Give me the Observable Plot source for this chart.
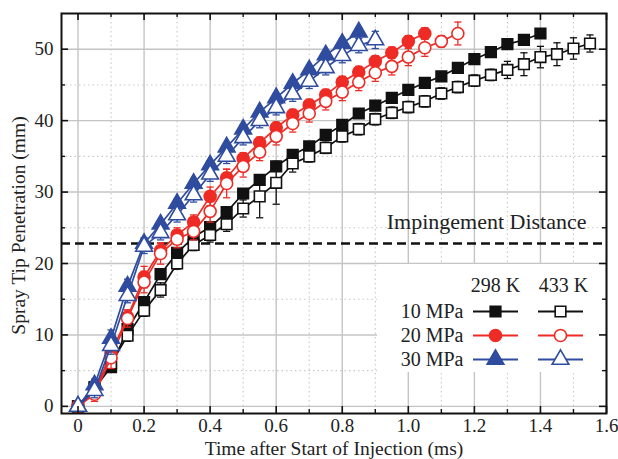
<!DOCTYPE html>
<html><head><meta charset="utf-8">
<script src="https://cdn.jsdelivr.net/npm/d3@7"></script>
<script src="https://cdn.jsdelivr.net/npm/@observablehq/plot@0.6"></script>
<style>html,body{margin:0;padding:0;background:#fff}svg{display:block}</style>
</head><body><div id="chart"></div>
<script>
// ---- data ----
const times = [0,0.05,0.1,0.15,0.2,0.25,0.3,0.35,0.4,0.45,0.5,0.55,0.6,0.65,0.7,0.75,0.8,0.85,0.9,0.95,1.0,1.05,1.1,1.15,1.2,1.25,1.3,1.35,1.4,1.45,1.5,1.55];

const p10_298 = [0,2.5,5.5,10.8,14.6,18.5,21.5,23.7,25.1,27.2,29.8,31.7,33.6,35.2,36.4,38.0,39.4,41.0,42.1,43.2,44.3,45.3,46.2,47.4,48.6,49.6,50.7,51.3,52.2];
const e10_298 = [0,0.5,0.6,0.8,0.6,0.6,0.6,0.5,0.5,0.5,0.5,0.5,0.5,0.5,0.5,0.5,0.5,0.5,0.5,0.5,0.5,0.5,0.5,0.5,0.5,0.5,0.5,0.5,0.5];
const p10_433 = [0,2.7,6.0,9.9,13.4,16.3,20.0,22.6,24.0,25.5,27.7,29.4,31.3,34.0,35.0,36.2,37.8,38.8,40.2,41.1,41.9,42.7,43.8,44.7,45.6,46.4,47.1,47.9,48.9,49.3,50.1,50.8];
const e10_433 = [0,0.5,1.0,0.8,0.8,1.0,0.8,0.8,1.0,1.0,1.2,3.0,3.0,1.2,0.8,0.8,0.8,0.8,0.8,0.8,0.8,0.8,0.8,0.8,0.8,0.8,1.2,1.6,1.5,1.6,1.5,1.2];
const p20_298 = [0,2.0,7.5,12.5,18.1,21.8,24.0,25.8,29.4,32.0,34.7,36.9,39.0,40.8,42.2,43.6,45.4,46.8,48.3,49.5,51.1,52.2];
const e20_298 = [0,0.8,1.2,1.0,1.5,1.0,1.0,1.0,1.3,1.2,0.8,0.8,0.8,0.8,0.8,0.8,0.8,0.8,0.8,0.8,0.8,0.8];
const p20_433 = [0,1.7,6.8,12.3,17.4,21.4,23.4,24.5,27.3,31.2,33.6,35.6,37.8,39.6,41.0,42.7,44.0,45.4,46.7,47.6,48.9,50.2,51.1,52.2];
const e20_433 = [0,1.0,1.5,1.2,1.5,1.5,1.2,1.2,1.5,2.0,1.5,1.2,1.2,1.2,1.2,1.2,1.2,1.2,1.2,1.2,1.2,1.2,0.8,1.6];
const p30_298 = [0,3.0,9.5,16.8,22.8,25.5,28.4,31.2,33.8,36.3,38.8,41.2,43.2,45.2,47.1,49.2,50.8,52.4];
const e30_298 = [0,0.8,1.2,1.0,0.8,0.6,0.6,0.6,0.6,0.6,0.6,0.6,0.6,0.6,0.6,0.6,0.6,0.6];
const p30_433 = [0,2.2,8.5,15.5,22.4,24.3,26.8,29.6,32.5,35.0,37.6,40.0,41.8,43.7,45.5,47.4,49.1,50.5,51.3];
const e30_433 = [0,1.0,1.2,1.0,1.0,1.0,1.0,1.0,1.0,1.0,1.0,1.0,1.0,1.0,1.0,1.0,1.0,1.0,1.2];

const impingement = [22.8];
const impingementLabel = ["Impingement Distance"];
const xTicks = [0,0.2,0.4,0.6,0.8,1.0,1.2,1.4,1.6];
const xTickLabels = ["0","0.2","0.4","0.6","0.8","1.0","1.2","1.4","1.6"];
const xMinor = [0.1,0.3,0.5,0.7,0.9,1.1,1.3,1.5];
const yTicks = [0,10,20,30,40,50];
const yMinor = [5,15,25,35,45];
const pressures = ["10 MPa","20 MPa","30 MPa"];
const temps = ["298 K","433 K"];
const xTitle = "Time after Start of Injection (ms)";
const yTitle = "Spray Tip Penetration (mm)";

// ---- layout / style ----
const W = 618, H = 459, ML = 61, MR = 12, MT = 13, MB = 46;
const xDom = [-0.05, 1.6], yDom = [-1, 55];
const FW = W - ML - MR, FH = H - MT - MB;
const xPx = px => xDom[0] + (px - ML) / FW * (xDom[1] - xDom[0]);
const yPx = py => yDom[0] + (H - MB - py) / FH * (yDom[1] - yDom[0]);
const BLACK = "#111", RED = "#ee2b25", BLUE = "#2f4c9f";
const colors = [BLACK, RED, BLUE];
const symbols = ["square", "circle", "triangle"];
const radii = [6, 6, 6.2];

const seriesDefs = [
  {vals: p10_298, err: e10_298, row: 0, filled: true},
  {vals: p10_433, err: e10_433, row: 0, filled: false},
  {vals: p20_298, err: e20_298, row: 1, filled: true},
  {vals: p20_433, err: e20_433, row: 1, filled: false},
  {vals: p30_298, err: e30_298, row: 2, filled: true},
  {vals: p30_433, err: e30_433, row: 2, filled: false}
];

const capSymbol = {draw(ctx, size) { const h = Math.sqrt(size / Math.PI); ctx.moveTo(-h, 0); ctx.lineTo(h, 0); }};

const marks = [];
// grids
marks.push(Plot.gridX(xMinor, {stroke: "#c9c9c9", strokeOpacity: 1, strokeWidth: 1.1, strokeDasharray: "1.5,3"}));
marks.push(Plot.gridY(yMinor, {stroke: "#c9c9c9", strokeOpacity: 1, strokeWidth: 1.1, strokeDasharray: "1.5,3"}));
marks.push(Plot.gridX(xTicks, {stroke: "#c4c4c4", strokeOpacity: 1, strokeWidth: 1.4}));
marks.push(Plot.gridY(yTicks, {stroke: "#c4c4c4", strokeOpacity: 1, strokeWidth: 1.4}));

// impingement line + label
marks.push(Plot.ruleY(impingement, {y: d => d, stroke: BLACK, strokeWidth: 2.6, strokeDasharray: "9,5"}));
marks.push(Plot.text(impingementLabel, {x: xPx(586), y: yPx(228), text: d => d, textAnchor: "end", lineAnchor: "bottom", fontSize: 22, fill: "#222"}));

// series
for (const s of seriesDefs) {
  const color = colors[s.row];
  const rows = s.vals.map((v, i) => ({t: times[i], v, e: s.err[i]}));
  marks.push(Plot.ruleX(rows, {x: "t", y1: d => d.v - d.e, y2: d => d.v + d.e, stroke: color, strokeWidth: 1.3}));
  marks.push(Plot.dot(rows, {x: "t", y: d => d.v + d.e, symbol: capSymbol, r: 3.6, fill: "none", stroke: color, strokeWidth: 1.3}));
  marks.push(Plot.dot(rows, {x: "t", y: d => d.v - d.e, symbol: capSymbol, r: 3.6, fill: "none", stroke: color, strokeWidth: 1.3}));
  marks.push(Plot.line(rows, {x: "t", y: "v", stroke: color, strokeWidth: 1.7}));
  marks.push(Plot.dot(rows, {x: "t", y: "v", symbol: symbols[s.row], r: radii[s.row], fill: s.filled ? color : "white", stroke: color, strokeWidth: 1.6}));
}

// legend box
marks.push(Plot.rect([0], {x1: xPx(377), x2: xPx(605), y1: yPx(372), y2: yPx(264), fill: "white"}));
const colX = [495, 560], half = 22.5, rowY = [311, 335, 359];
marks.push(Plot.text(temps, {x: (d, i) => xPx(colX[i] + (i ? 3 : 0)), y: yPx(291), text: d => d, textAnchor: "middle", lineAnchor: "bottom", fontSize: 20, fill: "#222"}));
marks.push(Plot.text(pressures, {x: xPx(463), y: (d, i) => yPx(rowY[i]), text: d => d, textAnchor: "end", lineAnchor: "middle", fontSize: 20, fill: "#222"}));
const legItems = [];
pressures.forEach((p, r) => temps.forEach((t, c) => legItems.push({r, c})));
marks.push(Plot.link(legItems, {x1: d => xPx(colX[d.c] - half), x2: d => xPx(colX[d.c] + half), y1: d => yPx(rowY[d.r]), y2: d => yPx(rowY[d.r]), stroke: d => colors[d.r], strokeWidth: 1.8}));
for (const item of legItems) {
  marks.push(Plot.dot([item], {x: d => xPx(colX[d.c]), y: d => yPx(rowY[d.r]), symbol: symbols[item.r], r: radii[item.r], fill: item.c === 0 ? colors[item.r] : "white", stroke: colors[item.r], strokeWidth: 1.6}));
}

// frame and inward ticks
marks.push(Plot.frame({stroke: BLACK, strokeWidth: 2}));
marks.push(Plot.ruleX(xTicks, {x: d => d, insetTop: FH - 7, stroke: BLACK, strokeWidth: 1.6}));
marks.push(Plot.ruleX(xTicks, {x: d => d, insetBottom: FH - 7, stroke: BLACK, strokeWidth: 1.6}));
marks.push(Plot.ruleX(xMinor, {x: d => d, insetTop: FH - 4, stroke: BLACK, strokeWidth: 1.4}));
marks.push(Plot.ruleX(xMinor, {x: d => d, insetBottom: FH - 4, stroke: BLACK, strokeWidth: 1.4}));
marks.push(Plot.ruleY(yTicks, {y: d => d, insetRight: FW - 7, stroke: BLACK, strokeWidth: 1.6}));
marks.push(Plot.ruleY(yTicks, {y: d => d, insetLeft: FW - 7, stroke: BLACK, strokeWidth: 1.6}));
marks.push(Plot.ruleY(yMinor, {y: d => d, insetRight: FW - 4, stroke: BLACK, strokeWidth: 1.4}));
marks.push(Plot.ruleY(yMinor, {y: d => d, insetLeft: FW - 4, stroke: BLACK, strokeWidth: 1.4}));

// tick labels
marks.push(Plot.axisX(xTicks, {anchor: "bottom", tickSize: 0, tickPadding: 5, tickFormat: (d, i) => xTickLabels[i], label: null, fontSize: 19, fill: "#222"}));
marks.push(Plot.axisY(yTicks, {anchor: "left", tickSize: 0, tickPadding: 8, tickFormat: d => String(d), label: null, fontSize: 19, fill: "#222"}));

// axis titles
marks.push(Plot.text([xTitle], {frameAnchor: "bottom", dy: 41, text: d => d, textAnchor: "middle", lineAnchor: "bottom", fontSize: 19.5, fill: "#222"}));
marks.push(Plot.text([yTitle], {frameAnchor: "left", dx: -43, dy: 12, rotate: -90, text: d => d, textAnchor: "middle", lineAnchor: "middle", fontSize: 19.5, fill: "#222"}));

const chart = Plot.plot({
  width: W, height: H,
  marginLeft: ML, marginRight: MR, marginTop: MT, marginBottom: MB,
  x: {domain: xDom, axis: null},
  y: {domain: yDom, axis: null},
  style: {fontFamily: "'Liberation Serif', 'Times New Roman', serif", fontSize: "19px", background: "white", overflow: "visible"},
  marks
});
document.getElementById("chart").appendChild(chart);
</script>
</body></html>
